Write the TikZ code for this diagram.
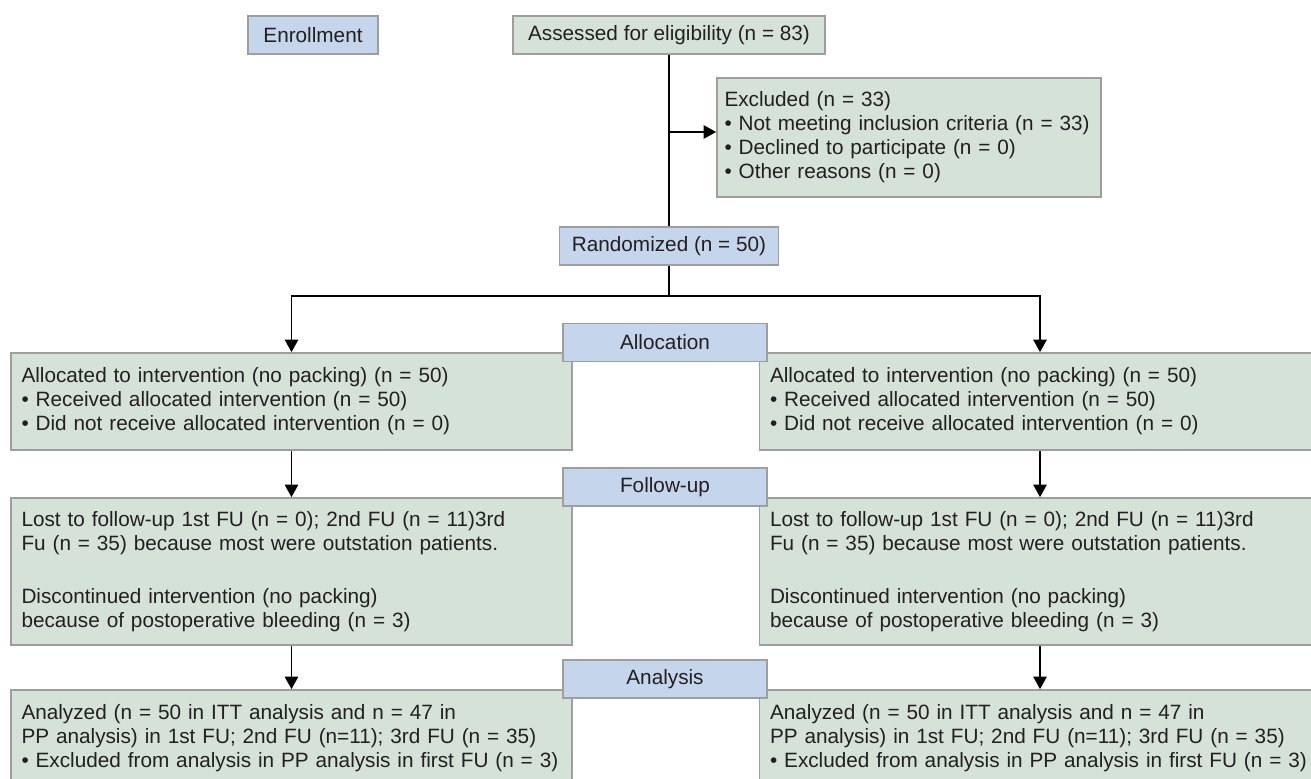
\documentclass[tikz,border=0pt]{standalone}
\usepackage{fontspec}
\setmainfont{Liberation Sans}
\usepackage{tikz}
\usetikzlibrary{arrows.meta, positioning}
\definecolor{boxgreen}{RGB}{213,226,215}
\definecolor{stageblue}{RGB}{196,213,236}
\definecolor{edgegray}{RGB}{158,158,158}
\definecolor{textdark}{RGB}{35,31,32}

\begin{document}
\begin{tikzpicture}[
    font=\fontsize{11.8}{13.7}\selectfont,
    text=textdark,
    plainbox/.style={draw=edgegray, line width=1pt, fill=#1, minimum height=0.76cm, inner sep=0pt},
    stagebox/.style={plainbox=stageblue, minimum width=#1},
    textbox/.style={plainbox=boxgreen, text width=#1, inner xsep=0.21cm, align=left},
    link/.style={line width=0.7pt},
    flow/.style={link, -{Triangle[length=0.25cm, width=0.27cm]}}
]
    \useasboundingbox (0,0) rectangle (26.22,15.56);

    % Enrollment
    \node[stagebox=2.6cm] (enroll) at (6.26,14.86) {Enrollment};
    \node[plainbox=boxgreen, minimum width=6.24cm] (assess) at (13.38,14.86) {Assessed for eligibility (n = 83)};
    \node[textbox=7.38cm, inner xsep=0.15cm, minimum height=2.38cm] (excl) at (18.18,12.81) {Excluded (n = 33)\\
        \textbullet\ Not meeting inclusion criteria (n = 33)\\
        \textbullet\ Declined to participate (n = 0)\\
        \textbullet\ Other reasons (n = 0)};
    \node[stagebox=4.38cm] (rand) at (13.38,10.64) {Randomized (n = 50)};

    % Allocation
    \node[textbox=10.8cm, minimum height=1.94cm] (alloc1) at (5.83,7.53) {Allocated to intervention (no packing) (n = 50)\\
        \textbullet\ Received allocated intervention (n = 50)\\
        \textbullet\ Did not receive allocated intervention (n = 0)};
    \node[textbox=10.8cm, minimum height=1.94cm] (alloc2) at (20.8,7.53) {Allocated to intervention (no packing) (n = 50)\\
        \textbullet\ Received allocated intervention (n = 50)\\
        \textbullet\ Did not receive allocated intervention (n = 0)};

    % Follow-up
    \node[textbox=10.8cm, minimum height=2.94cm] (fu1) at (5.83,4.13) {Lost to follow-up 1st FU (n = 0); 2nd FU (n = 11)3rd\\
        Fu (n = 35) because most were outstation patients.\\[16.5pt]
        Discontinued intervention (no packing)\\
        because of postoperative bleeding (n = 3)};
    \node[textbox=10.8cm, minimum height=2.94cm] (fu2) at (20.8,4.13) {Lost to follow-up 1st FU (n = 0); 2nd FU (n = 11)3rd\\
        Fu (n = 35) because most were outstation patients.\\[16.5pt]
        Discontinued intervention (no packing)\\
        because of postoperative bleeding (n = 3)};

    % Analysis
    \node[textbox=10.8cm, minimum height=1.94cm] (ana1) at (5.83,0.79) {Analyzed (n = 50 in ITT analysis and n = 47 in\\
        PP analysis) in 1st FU; 2nd FU (n=11); 3rd FU (n = 35)\\
        \textbullet\ Excluded from analysis in PP analysis in first FU (n = 3)};
    \node[textbox=10.8cm, minimum height=1.94cm] (ana2) at (20.8,0.79) {Analyzed (n = 50 in ITT analysis and n = 47 in\\
        PP analysis) in 1st FU; 2nd FU (n=11); 3rd FU (n = 35)\\
        \textbullet\ Excluded from analysis in PP analysis in first FU (n = 3)};

    % Stage labels
    \node[stagebox=4.08cm] (allocation) at (13.30,8.71) {Allocation};
    \node[stagebox=4.08cm] (followup) at (13.30,5.82) {Follow-up};
    \node[stagebox=4.08cm] (analysis) at (13.30,1.98) {Analysis};

    % Connections
    \coordinate (exclsplit) at (13.38,12.92);
    \coordinate (randsplit) at (13.38,9.64);
    \draw[link] (assess.south) -- (rand.north);
    \draw[flow] (exclsplit) -- (exclsplit -| excl.west);
    \draw[link] (rand.south) -- (randsplit);
    \draw[flow] (randsplit) -| (alloc1.north);
    \draw[flow] (randsplit) -| (alloc2.north);
    \draw[flow] (alloc1) -- (fu1);
    \draw[flow] (alloc2) -- (fu2);
    \draw[flow] (fu1) -- (ana1);
    \draw[flow] (fu2) -- (ana2);
\end{tikzpicture}
\end{document}
